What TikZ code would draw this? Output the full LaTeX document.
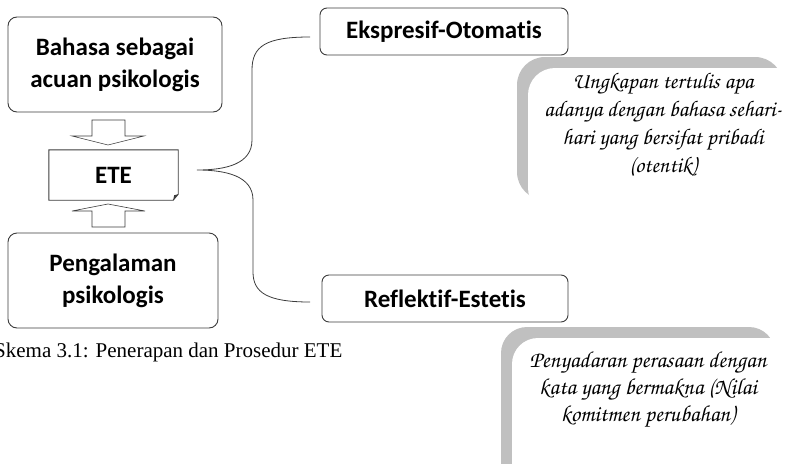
\documentclass[tikz,border=0pt]{standalone}
\usepackage[T1]{fontenc}
\usepackage{fontspec}
\setmainfont{Liberation Serif}
\newfontfamily\boxfont{Carlito}[Ligatures=NoCommon]
\newcommand\chancery{\fontencoding{T1}\fontfamily{pzc}\fontseries{mb}\fontshape{it}\selectfont}
\definecolor{shadowgray}{RGB}{192,192,192}
\definecolor{edge}{RGB}{60,60,60}
\tikzset{
  box/.style={draw=edge, line width=0.9pt, rounded corners=9pt, fill=white,
    align=center, inner sep=0pt, font=\boxfont\bfseries\fontsize{25}{32}\selectfont},
  tag/.style={box, rounded corners=7pt, minimum height=47pt},
  note/.style={align=center, inner sep=0pt, font=\chancery\fontsize{22.5}{28}\selectfont},
  blockarrow/.style={draw=edge, line width=0.6pt, fill=white, line join=miter},
  brace/.style={draw=edge, line width=0.8pt}
}
\begin{document}
\begin{tikzpicture}[x=1pt,y=-1pt]
\useasboundingbox (0,0) rectangle (786,463);

% soft grey frames behind the two notes
\fill[shadowgray, rounded corners=28pt] (517,57) rectangle (783,200);
\fill[white, rounded corners=27pt] (528,68) rectangle (812,215);
\fill[shadowgray, rounded corners=26pt] (501,327) rectangle (775,490);
\fill[white, rounded corners=26pt] (512,338) rectangle (800,500);

% left column
\node[box, minimum width=214pt, minimum height=95pt] (acuan) at (115,64.5) {Bahasa sebagai\\acuan psikologis};
\node[box, minimum width=210pt, minimum height=95pt] (alami) at (113,280.5) {Pengalaman\\psikologis};
\node[inner sep=0pt, minimum width=129pt, minimum height=50pt,
      font=\boxfont\bfseries\fontsize{25}{32}\selectfont] (ete) at (113.5,175) {ETE};
\draw[edge, line width=0.9pt, line join=miter]
  (ete.north west) -- (ete.north east) -- ([yshift=6pt]ete.south east)
  -- ([xshift=-5pt]ete.south east) -- (ete.south west) -- cycle;
\fill[edge] ([xshift=-5pt]ete.south east) -- ([xshift=-4pt,yshift=5pt]ete.south east)
  -- ([yshift=6pt]ete.south east) -- cycle;

% hollow block arrows into ETE
\draw[blockarrow] (92,120) -- (125,120) -- (125,136) -- (144,136) -- (108,145)
  -- (72,136) -- (92,136) -- cycle;
\draw[blockarrow] (92,227) -- (125,227) -- (125,211) -- (145,211) -- (108,204)
  -- (72,211) -- (92,211) -- cycle;

% right column
\node[tag, minimum width=248pt] (ek) at (444,31.5) {Ekspresif-Otomatis};
\node[tag, minimum width=246pt] (re) at (445,298.5) {Reflektif-Estetis};

% curly brace from ETE to both branches
\coordinate (braceTip) at (197,170);
\coordinate (braceTop) at (310,37);
\coordinate (braceBot) at (310,302);
\draw[brace] (braceTop) .. controls (266,37) and (252,46) .. (252,70)
  -- (252,140) .. controls (252,164) and (226,170) .. (braceTip)
  .. controls (226,170) and (253,176) .. (253,200)
  -- (253,272) .. controls (253,293) and (268,302) .. (braceBot);

% notes
\node[note] (n1) at (663,125) {Ungkapan tertulis apa\\adanya dengan bahasa sehari-\\hari yang bersifat pribadi\\(otentik)};
\node[note, font=\chancery\fontsize{23}{27}\selectfont] (n2) at (648,390) {Penyadaran perasaan dengan\\kata yang bermakna (Nilai\\komitmen perubahan)};

% caption
\node[anchor=base west, inner sep=0pt, font=\fontsize{21}{24}\selectfont] (cap) at (-6,357)
  {Skema 3.1: Penerapan dan Prosedur ETE};
\end{tikzpicture}
\end{document}
